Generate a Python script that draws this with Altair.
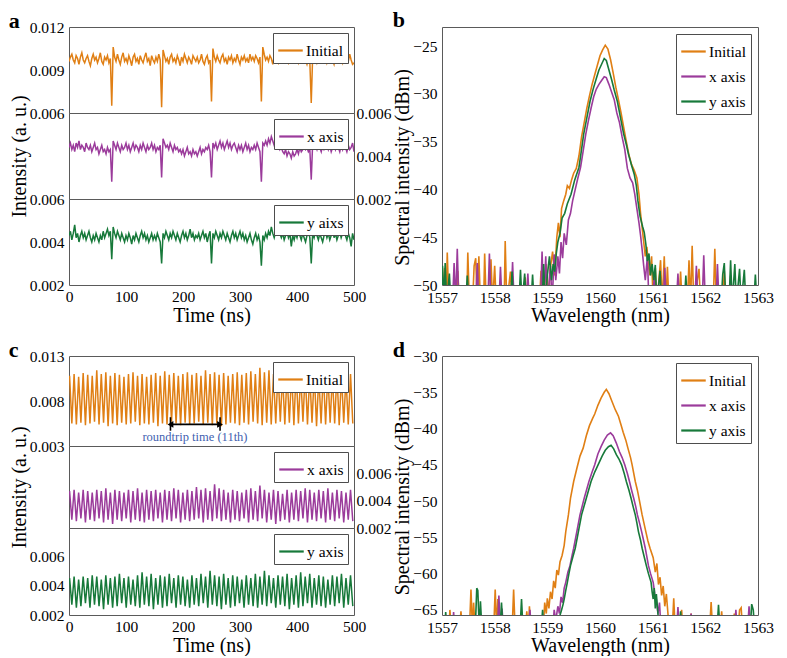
import altair as alt
import pandas as pd

FONT = "Liberation Serif"
ORANGE = "#E07F14"
PURPLE = "#9B3B9B"
GREEN = "#17793A"
FRAME = "#5a5a5a"
BLUE = "#3F5FB0"

# ---------------- panel a : time traces (2.5 ns sampling) ----------------
a_initial = [
    0.0096, 0.0099, 0.0101, 0.0097, 0.0095, 0.0100, 0.0098, 0.0094, 0.0099, 0.0102,
    0.0097, 0.0095, 0.0098, 0.0100, 0.0096, 0.0093, 0.0098, 0.0101, 0.0097, 0.0099,
    0.0095, 0.0098, 0.0102, 0.0096, 0.0094, 0.0099, 0.0097, 0.0100, 0.0095, 0.0098,
    0.0065, 0.0106, 0.0099, 0.0096, 0.0101, 0.0097, 0.0094, 0.0099, 0.0102, 0.0096,
    0.0098, 0.0095, 0.0100, 0.0097, 0.0093, 0.0099, 0.0101, 0.0096, 0.0098, 0.0094,
    0.0100, 0.0097, 0.0095, 0.0099, 0.0102, 0.0096, 0.0098, 0.0093, 0.0100, 0.0097,
    0.0095, 0.0099, 0.0096, 0.0101, 0.0097, 0.0064, 0.0104, 0.0100, 0.0096, 0.0098,
    0.0094, 0.0099, 0.0101, 0.0096, 0.0098, 0.0095, 0.0100, 0.0097, 0.0093, 0.0099,
    0.0096, 0.0101, 0.0098, 0.0095, 0.0099, 0.0097, 0.0094, 0.0100, 0.0098, 0.0096,
    0.0099, 0.0095, 0.0097, 0.0101, 0.0096, 0.0094, 0.0098, 0.0100, 0.0095, 0.0097,
    0.0068, 0.0105, 0.0099, 0.0096, 0.0100, 0.0097, 0.0095, 0.0099, 0.0101, 0.0096,
    0.0098, 0.0094, 0.0099, 0.0097, 0.0100, 0.0095, 0.0098, 0.0096, 0.0101, 0.0097,
    0.0094, 0.0099, 0.0097, 0.0100, 0.0096, 0.0098, 0.0095, 0.0101, 0.0097, 0.0099,
    0.0096, 0.0100, 0.0098, 0.0095, 0.0099, 0.0068, 0.0106, 0.0101, 0.0097, 0.0099,
    0.0096, 0.0100, 0.0098, 0.0094, 0.0099, 0.0101, 0.0097, 0.0095, 0.0100, 0.0098,
    0.0096, 0.0099, 0.0102, 0.0097, 0.0095, 0.0100, 0.0098, 0.0096, 0.0101, 0.0097,
    0.0099, 0.0095, 0.0098, 0.0100, 0.0096, 0.0099, 0.0097, 0.0094, 0.0098, 0.0096,
    0.0067, 0.0100, 0.0097, 0.0099, 0.0095, 0.0098, 0.0101, 0.0096, 0.0099, 0.0097,
    0.0100, 0.0095, 0.0098, 0.0096, 0.0101, 0.0097, 0.0094, 0.0099, 0.0097, 0.0100,
    0.0096, 0.0098, 0.0095, 0.0100, 0.0097, 0.0099, 0.0096, 0.0101, 0.0097, 0.0094,
    0.0095,
]
a_xaxis = [
    0.0044, 0.0046, 0.0043, 0.0045, 0.0042, 0.0046, 0.0044, 0.0047, 0.0043, 0.0045,
    0.0044, 0.0042, 0.0046, 0.0044, 0.0043, 0.0045, 0.0042, 0.0044, 0.0046, 0.0043,
    0.0044, 0.0041, 0.0043, 0.0045, 0.0042, 0.0043, 0.0041, 0.0044, 0.0042, 0.0043,
    0.0028, 0.0047, 0.0045, 0.0043, 0.0046, 0.0044, 0.0042, 0.0045, 0.0043, 0.0044,
    0.0046, 0.0043, 0.0045, 0.0042, 0.0044, 0.0046, 0.0043, 0.0045, 0.0044, 0.0042,
    0.0045, 0.0043, 0.0046, 0.0044, 0.0042, 0.0045, 0.0043, 0.0044, 0.0046, 0.0043,
    0.0045, 0.0042, 0.0044, 0.0043, 0.0045, 0.0030, 0.0048, 0.0046, 0.0044, 0.0045,
    0.0043, 0.0046, 0.0044, 0.0042, 0.0045, 0.0043, 0.0044, 0.0042, 0.0043, 0.0041,
    0.0043, 0.0040, 0.0042, 0.0044, 0.0041, 0.0042, 0.0040, 0.0043, 0.0041, 0.0042,
    0.0040, 0.0042, 0.0044, 0.0041, 0.0043, 0.0042, 0.0044, 0.0043, 0.0045, 0.0042,
    0.0030, 0.0046, 0.0044, 0.0046, 0.0043, 0.0045, 0.0047, 0.0044, 0.0046, 0.0043,
    0.0045, 0.0047, 0.0044, 0.0046, 0.0043, 0.0045, 0.0046, 0.0044, 0.0042, 0.0045,
    0.0043, 0.0045, 0.0042, 0.0044, 0.0046, 0.0043, 0.0045, 0.0042, 0.0044, 0.0043,
    0.0045, 0.0043, 0.0046, 0.0044, 0.0042, 0.0028, 0.0046, 0.0045, 0.0047, 0.0045,
    0.0048, 0.0046, 0.0049, 0.0047, 0.0045, 0.0047, 0.0044, 0.0046, 0.0043, 0.0044,
    0.0042, 0.0041, 0.0043, 0.0040, 0.0042, 0.0041, 0.0039, 0.0042, 0.0040, 0.0041,
    0.0043, 0.0041, 0.0044, 0.0042, 0.0043, 0.0045, 0.0043, 0.0044, 0.0042, 0.0043,
    0.0029, 0.0046, 0.0044, 0.0045, 0.0043, 0.0046, 0.0044, 0.0042, 0.0045, 0.0043,
    0.0044, 0.0046, 0.0043, 0.0045, 0.0042, 0.0044, 0.0046, 0.0043, 0.0045, 0.0044,
    0.0042, 0.0045, 0.0043, 0.0046, 0.0044, 0.0042, 0.0045, 0.0043, 0.0044, 0.0046,
    0.0042,
]
a_yaxis = [
    0.0043, 0.0045, 0.0041, 0.0044, 0.0048, 0.0042, 0.0044, 0.0040, 0.0043, 0.0045,
    0.0042, 0.0044, 0.0041, 0.0043, 0.0045, 0.0042, 0.0040, 0.0043, 0.0041, 0.0044,
    0.0042, 0.0040, 0.0043, 0.0041, 0.0045, 0.0042, 0.0044, 0.0046, 0.0043, 0.0045,
    0.0032, 0.0047, 0.0044, 0.0042, 0.0045, 0.0043, 0.0041, 0.0044, 0.0042, 0.0040,
    0.0043, 0.0041, 0.0044, 0.0042, 0.0039, 0.0043, 0.0041, 0.0044, 0.0042, 0.0040,
    0.0043, 0.0045, 0.0042, 0.0044, 0.0041, 0.0043, 0.0040, 0.0042, 0.0044, 0.0041,
    0.0043, 0.0041, 0.0044, 0.0042, 0.0040, 0.0030, 0.0044, 0.0042, 0.0045, 0.0043,
    0.0041, 0.0044, 0.0042, 0.0045, 0.0043, 0.0041, 0.0044, 0.0042, 0.0040, 0.0043,
    0.0045, 0.0042, 0.0044, 0.0041, 0.0043, 0.0046, 0.0042, 0.0044, 0.0041, 0.0043,
    0.0042, 0.0044, 0.0041, 0.0043, 0.0045, 0.0042, 0.0044, 0.0040, 0.0043, 0.0045,
    0.0030, 0.0044, 0.0042, 0.0045, 0.0043, 0.0041, 0.0044, 0.0042, 0.0045, 0.0043,
    0.0041, 0.0044, 0.0042, 0.0040, 0.0043, 0.0045, 0.0042, 0.0044, 0.0041, 0.0043,
    0.0045, 0.0042, 0.0044, 0.0041, 0.0043, 0.0040, 0.0042, 0.0044, 0.0041, 0.0039,
    0.0042, 0.0044, 0.0041, 0.0043, 0.0040, 0.0029, 0.0043, 0.0041, 0.0044, 0.0042,
    0.0045, 0.0043, 0.0047, 0.0044, 0.0042, 0.0045, 0.0043, 0.0049, 0.0044, 0.0042,
    0.0044, 0.0041, 0.0043, 0.0045, 0.0042, 0.0044, 0.0038, 0.0043, 0.0041, 0.0044,
    0.0042, 0.0045, 0.0043, 0.0041, 0.0044, 0.0042, 0.0040, 0.0043, 0.0045, 0.0042,
    0.0030, 0.0044, 0.0042, 0.0045, 0.0043, 0.0041, 0.0044, 0.0042, 0.0040, 0.0043,
    0.0045, 0.0042, 0.0044, 0.0041, 0.0043, 0.0046, 0.0042, 0.0044, 0.0041, 0.0043,
    0.0045, 0.0042, 0.0044, 0.0047, 0.0043, 0.0041, 0.0044, 0.0042, 0.0038, 0.0044,
    0.0041,
]

# ---------------- panel c : oscillating traces (peak / trough per period) ----------------
c_initial_peaks = [
    0.0108, 0.0110, 0.0107, 0.0111, 0.0109, 0.0108, 0.0114, 0.0110, 0.0112, 0.0108,
    0.0111, 0.0109, 0.0107, 0.0110, 0.0112, 0.0108, 0.0110, 0.0107, 0.0109, 0.0111,
    0.0108, 0.0113, 0.0109, 0.0111, 0.0108, 0.0110, 0.0112, 0.0109, 0.0111, 0.0108,
    0.0114, 0.0110, 0.0112, 0.0109, 0.0111, 0.0108, 0.0110, 0.0112, 0.0109, 0.0111,
    0.0113, 0.0110, 0.0117, 0.0112, 0.0114, 0.0110, 0.0112, 0.0109, 0.0111, 0.0113,
    0.0114, 0.0110, 0.0112, 0.0109, 0.0111, 0.0108, 0.0112, 0.0110, 0.0108, 0.0111,
    0.0109, 0.0106, 0.0110,
]
c_initial_troughs = [
    0.0055, 0.0054, 0.0056, 0.0053, 0.0055, 0.0057, 0.0054, 0.0056, 0.0052, 0.0055,
    0.0053, 0.0056, 0.0054, 0.0055, 0.0057, 0.0053, 0.0055, 0.0054, 0.0056, 0.0052,
    0.0055, 0.0054, 0.0057, 0.0055, 0.0053, 0.0056, 0.0054, 0.0055, 0.0057, 0.0054,
    0.0056, 0.0053, 0.0055, 0.0052, 0.0054, 0.0056, 0.0055, 0.0053, 0.0056, 0.0054,
    0.0057, 0.0055, 0.0053, 0.0056, 0.0054, 0.0055, 0.0057, 0.0054, 0.0056, 0.0053,
    0.0055, 0.0057, 0.0054, 0.0056, 0.0052, 0.0055, 0.0054, 0.0056, 0.0055, 0.0053,
    0.0056, 0.0054, 0.0055,
]
c_xaxis_peaks = [
    0.0047, 0.0048, 0.0046, 0.0048, 0.0047, 0.0046, 0.0048, 0.0047, 0.0049, 0.0046,
    0.0048, 0.0047, 0.0046, 0.0048, 0.0047, 0.0049, 0.0046, 0.0048, 0.0047, 0.0048,
    0.0046, 0.0048, 0.0047, 0.0049, 0.0048, 0.0046, 0.0048, 0.0047, 0.0050, 0.0048,
    0.0049, 0.0047, 0.0052, 0.0049, 0.0048, 0.0046, 0.0048, 0.0047, 0.0046, 0.0048,
    0.0049, 0.0047, 0.0051, 0.0048, 0.0046, 0.0048, 0.0047, 0.0045, 0.0048, 0.0046,
    0.0048, 0.0047, 0.0049, 0.0048, 0.0046, 0.0048, 0.0047, 0.0049, 0.0046, 0.0048,
    0.0047, 0.0046, 0.0048,
]
c_xaxis_troughs = [
    0.0026, 0.0025, 0.0027, 0.0024, 0.0026, 0.0025, 0.0027, 0.0024, 0.0026, 0.0023,
    0.0026, 0.0025, 0.0027, 0.0024, 0.0026, 0.0025, 0.0024, 0.0026, 0.0025, 0.0027,
    0.0024, 0.0026, 0.0025, 0.0027, 0.0024, 0.0026, 0.0025, 0.0026, 0.0027, 0.0024,
    0.0026, 0.0025, 0.0027, 0.0025, 0.0026, 0.0024, 0.0026, 0.0025, 0.0027, 0.0024,
    0.0026, 0.0025, 0.0027, 0.0024, 0.0026, 0.0023, 0.0025, 0.0026, 0.0024, 0.0026,
    0.0025, 0.0027, 0.0024, 0.0026, 0.0025, 0.0027, 0.0024, 0.0026, 0.0025, 0.0027,
    0.0024, 0.0026, 0.0025,
]
c_yaxis_peaks = [
    0.0045, 0.0046, 0.0044, 0.0046, 0.0045, 0.0047, 0.0046, 0.0044, 0.0047, 0.0045,
    0.0046, 0.0048, 0.0045, 0.0046, 0.0044, 0.0047, 0.0049, 0.0046, 0.0048, 0.0045,
    0.0047, 0.0046, 0.0048, 0.0045, 0.0047, 0.0046, 0.0044, 0.0047, 0.0045, 0.0048,
    0.0046, 0.0050, 0.0047, 0.0046, 0.0048, 0.0045, 0.0047, 0.0046, 0.0044, 0.0047,
    0.0045, 0.0048, 0.0046, 0.0050, 0.0047, 0.0045, 0.0047, 0.0046, 0.0048, 0.0045,
    0.0047, 0.0049, 0.0046, 0.0048, 0.0045, 0.0047, 0.0046, 0.0044, 0.0047, 0.0046,
    0.0048, 0.0045, 0.0047,
]
c_yaxis_troughs = [
    0.0027, 0.0025, 0.0026, 0.0028, 0.0025, 0.0027, 0.0026, 0.0024, 0.0027, 0.0025,
    0.0026, 0.0028, 0.0025, 0.0027, 0.0026, 0.0025, 0.0027, 0.0026, 0.0024, 0.0027,
    0.0025, 0.0026, 0.0028, 0.0025, 0.0027, 0.0026, 0.0025, 0.0027, 0.0026, 0.0028,
    0.0025, 0.0027, 0.0026, 0.0024, 0.0027, 0.0025, 0.0026, 0.0028, 0.0025, 0.0027,
    0.0026, 0.0025, 0.0027, 0.0026, 0.0028, 0.0025, 0.0027, 0.0026, 0.0024, 0.0027,
    0.0025, 0.0026, 0.0028, 0.0025, 0.0027, 0.0026, 0.0025, 0.0027, 0.0026, 0.0028,
    0.0025, 0.0027, 0.0026,
]
C_FIRST_PEAK_NS = 1.0
C_HALF_PERIOD_NS = 3.975  # 11th-harmonic pulses: 87.5 ns roundtrip / 11 / 2

roundtrip_t = [178, 265]
roundtrip_bar = [0.0047, 0.0062]
roundtrip_arrow_y = 0.0054
roundtrip_label = "roundtrip time (11th)"
roundtrip_label_pos = (221, 0.0040)

# ---------------- panel b : spectra (nm, dBm) ----------------
b_initial = [
    (1557.00, -52), (1557.05, -48.2), (1557.08, -52), (1557.10, -46.6), (1557.13, -52),
    (1557.27, -52), (1557.30, -48.5), (1557.33, -52), (1557.47, -52), (1557.49, -46.6),
    (1557.52, -52), (1557.58, -52), (1557.61, -48.0), (1557.64, -47.2), (1557.67, -52),
    (1557.70, -47.0), (1557.73, -52), (1557.79, -52), (1557.81, -46.7), (1557.84, -52),
    (1557.91, -52), (1557.93, -47.3), (1557.96, -52), (1558.00, -48.0), (1558.03, -52),
    (1558.18, -52), (1558.20, -45.4), (1558.23, -52), (1558.30, -48.6), (1558.33, -52),
    (1558.55, -52), (1558.58, -49.2), (1558.61, -52), (1558.85, -52), (1558.88, -48.5),
    (1558.92, -52), (1558.98, -47.8), (1559.02, -52), (1559.05, -48.5), (1559.10, -46.5),
    (1559.14, -49.0), (1559.18, -45.0), (1559.21, -43.5), (1559.24, -45.0), (1559.27, -42.0),
    (1559.31, -41.2), (1559.35, -40.5), (1559.38, -39.6), (1559.42, -39.9), (1559.46, -39.0),
    (1559.50, -38.3), (1559.55, -37.8), (1559.60, -36.5), (1559.65, -34.5), (1559.70, -33.0),
    (1559.75, -31.5), (1559.80, -30.2), (1559.85, -29.0), (1559.90, -28.0), (1559.95, -27.0),
    (1560.00, -26.0), (1560.05, -25.4), (1560.10, -24.9), (1560.15, -25.3), (1560.20, -26.4),
    (1560.25, -27.8), (1560.30, -29.3), (1560.35, -30.6), (1560.40, -32.0), (1560.45, -33.5),
    (1560.50, -35.0), (1560.55, -36.4), (1560.60, -37.4), (1560.65, -38.0), (1560.70, -38.8),
    (1560.74, -40.5), (1560.77, -42.5), (1560.80, -44.0), (1560.83, -45.5), (1560.86, -47.0),
    (1560.89, -46.0), (1560.92, -48.0), (1560.95, -49.0), (1560.98, -47.0), (1561.01, -52),
    (1561.05, -48.2), (1561.08, -52), (1561.15, -47.4), (1561.18, -52), (1561.22, -47.0),
    (1561.25, -52), (1561.28, -48.1), (1561.31, -52), (1561.50, -52), (1561.53, -48.6),
    (1561.56, -52), (1561.66, -52), (1561.69, -47.4), (1561.72, -52), (1561.75, -45.9),
    (1561.78, -52), (1561.88, -48.3), (1561.91, -52), (1562.15, -52), (1562.18, -46.2),
    (1562.21, -52), (1562.33, -52), (1562.36, -48.5), (1562.39, -52), (1563.00, -52),
]
b_xaxis = [
    (1557.00, -52), (1557.20, -52), (1557.23, -47.7), (1557.26, -52), (1557.29, -46.2),
    (1557.32, -52), (1557.64, -52), (1557.67, -47.7), (1557.70, -52), (1557.87, -52),
    (1557.90, -46.7), (1557.93, -52), (1558.08, -52), (1558.11, -48.1), (1558.14, -52),
    (1558.31, -52), (1558.34, -47.6), (1558.37, -52), (1558.60, -52), (1558.63, -48.8),
    (1558.66, -52), (1558.87, -52), (1558.90, -46.5), (1558.93, -52), (1558.97, -47.0),
    (1559.00, -52), (1559.06, -48.0), (1559.09, -52), (1559.13, -46.8), (1559.16, -49.5),
    (1559.20, -47.0), (1559.23, -48.8), (1559.26, -45.5), (1559.29, -47.2), (1559.32, -44.6),
    (1559.36, -45.8), (1559.40, -43.2), (1559.44, -42.5), (1559.48, -41.2), (1559.53, -40.0),
    (1559.58, -38.8), (1559.63, -37.7), (1559.68, -36.0), (1559.73, -34.2), (1559.78, -32.8),
    (1559.83, -31.5), (1559.88, -30.3), (1559.93, -29.5), (1559.98, -29.0), (1560.03, -28.6),
    (1560.08, -28.2), (1560.12, -28.3), (1560.17, -29.0), (1560.22, -29.8), (1560.27, -30.6),
    (1560.32, -32.0), (1560.37, -33.0), (1560.42, -34.5), (1560.47, -35.8), (1560.52, -37.8),
    (1560.57, -38.8), (1560.62, -39.3), (1560.66, -40.5), (1560.70, -42.0), (1560.74, -43.5),
    (1560.77, -44.8), (1560.80, -46.3), (1560.83, -48.0), (1560.86, -49.5), (1560.90, -47.0),
    (1560.93, -52), (1561.00, -52), (1561.03, -49.0), (1561.06, -52), (1561.20, -52),
    (1561.23, -48.2), (1561.26, -52), (1561.45, -52), (1561.48, -48.8), (1561.51, -52),
    (1561.80, -52), (1561.83, -48.0), (1561.86, -52), (1561.94, -52), (1561.97, -46.9),
    (1562.00, -52), (1562.20, -52), (1562.23, -47.8), (1562.26, -52), (1562.45, -52),
    (1562.48, -49.0), (1562.51, -52), (1563.00, -52),
]
b_yaxis = [
    (1557.00, -52), (1557.01, -48.0), (1557.04, -52), (1557.06, -47.7), (1557.09, -52),
    (1557.14, -48.8), (1557.17, -52), (1557.45, -52), (1557.48, -49.0), (1557.51, -52),
    (1558.30, -52), (1558.33, -48.6), (1558.36, -52), (1558.46, -52), (1558.49, -48.4),
    (1558.52, -52), (1558.57, -48.8), (1558.60, -52), (1558.69, -52), (1558.72, -48.9),
    (1558.75, -52), (1558.90, -52), (1558.93, -47.8), (1558.96, -52), (1559.00, -49.0),
    (1559.04, -47.0), (1559.08, -49.5), (1559.11, -47.8), (1559.14, -48.6), (1559.17, -46.7),
    (1559.20, -45.5), (1559.24, -44.6), (1559.28, -43.0), (1559.33, -42.5), (1559.38, -41.5),
    (1559.45, -40.5), (1559.52, -39.0), (1559.60, -37.7), (1559.65, -35.8), (1559.69, -34.2),
    (1559.75, -32.5), (1559.81, -30.8), (1559.87, -29.5), (1559.93, -28.4), (1559.98, -27.5),
    (1560.03, -26.9), (1560.08, -26.3), (1560.12, -26.5), (1560.17, -27.5), (1560.22, -28.5),
    (1560.27, -29.6), (1560.33, -30.8), (1560.39, -32.5), (1560.45, -34.2), (1560.50, -35.3),
    (1560.54, -36.3), (1560.60, -37.5), (1560.65, -38.4), (1560.69, -39.6), (1560.72, -41.2),
    (1560.76, -42.8), (1560.81, -43.9), (1560.84, -44.5), (1560.87, -45.7), (1560.90, -47.5),
    (1560.93, -46.7), (1560.96, -49.0), (1560.99, -47.8), (1561.02, -49.5), (1561.05, -47.9),
    (1561.08, -52), (1561.14, -48.5), (1561.17, -52), (1561.60, -52), (1561.63, -49.0),
    (1561.66, -52), (1562.30, -52), (1562.33, -48.9), (1562.36, -47.7), (1562.39, -52),
    (1562.45, -52), (1562.48, -47.4), (1562.51, -52), (1562.56, -47.8), (1562.59, -52),
    (1562.65, -48.3), (1562.68, -52), (1562.74, -48.4), (1562.77, -52), (1562.92, -52),
    (1562.95, -48.9), (1562.98, -52), (1563.00, -52),
]

# ---------------- panel d : spectra (nm, dBm) ----------------
d_initial = [
    (1557.00, -68), (1557.13, -68), (1557.15, -65.0), (1557.18, -68), (1557.33, -68),
    (1557.36, -65.2), (1557.39, -68), (1557.52, -68), (1557.55, -62.2), (1557.58, -68),
    (1557.60, -64.0), (1557.63, -68), (1557.98, -68), (1558.01, -62.2), (1558.04, -68),
    (1558.06, -63.5), (1558.09, -68), (1558.33, -68), (1558.36, -62.2), (1558.39, -68),
    (1558.58, -68), (1558.61, -65.2), (1558.64, -68), (1558.66, -64.5), (1558.69, -68),
    (1558.92, -68), (1558.95, -64.0), (1558.98, -65.5), (1559.00, -63.4), (1559.03, -64.8),
    (1559.06, -62.5), (1559.09, -63.5), (1559.12, -61.0), (1559.15, -62.0), (1559.18, -59.5),
    (1559.21, -60.2), (1559.24, -58.4), (1559.28, -57.5), (1559.32, -56.1), (1559.35, -54.2),
    (1559.40, -51.9), (1559.44, -49.6), (1559.50, -47.3), (1559.56, -45.5), (1559.62, -43.8),
    (1559.68, -42.7), (1559.74, -41.0), (1559.80, -39.6), (1559.86, -38.6), (1559.90, -38.0),
    (1559.96, -36.8), (1560.02, -35.8), (1560.08, -35.0), (1560.12, -34.6), (1560.17, -35.2),
    (1560.23, -36.3), (1560.29, -37.4), (1560.35, -38.3), (1560.40, -39.5), (1560.44, -40.5),
    (1560.49, -41.6), (1560.53, -42.7), (1560.58, -44.0), (1560.61, -45.0), (1560.67, -47.3),
    (1560.71, -48.5), (1560.74, -49.6), (1560.80, -51.9), (1560.87, -54.2), (1560.91, -55.5),
    (1560.95, -56.5), (1561.01, -57.8), (1561.05, -59.8), (1561.08, -58.6), (1561.11, -61.5),
    (1561.14, -60.5), (1561.17, -63.0), (1561.20, -61.7), (1561.23, -64.5), (1561.26, -62.8),
    (1561.29, -65.5), (1561.32, -68), (1561.37, -68), (1561.40, -63.4), (1561.43, -68),
    (1561.52, -68), (1561.55, -65.0), (1561.58, -68), (1561.70, -68), (1561.73, -65.5),
    (1561.76, -68), (1562.08, -68), (1562.11, -63.9), (1562.14, -68), (1562.28, -68),
    (1562.31, -65.2), (1562.34, -68), (1562.52, -68), (1562.55, -65.5), (1562.58, -68),
    (1562.62, -68), (1562.65, -65.0), (1562.68, -64.7), (1562.71, -68), (1563.00, -68),
]
d_xaxis = [
    (1557.00, -68), (1557.20, -68), (1557.22, -65.3), (1557.25, -68), (1558.05, -68),
    (1558.08, -63.0), (1558.11, -68), (1558.14, -64.8), (1558.17, -68), (1558.64, -68),
    (1558.67, -65.0), (1558.70, -68), (1559.10, -68), (1559.13, -65.0), (1559.16, -66.5),
    (1559.20, -64.5), (1559.23, -65.5), (1559.26, -63.2), (1559.29, -64.0), (1559.32, -62.0),
    (1559.35, -61.2), (1559.39, -59.8), (1559.43, -58.9), (1559.47, -57.5), (1559.50, -56.5),
    (1559.56, -54.2), (1559.62, -51.9), (1559.70, -49.6), (1559.79, -47.3), (1559.85, -46.0),
    (1559.90, -45.0), (1559.96, -43.5), (1560.02, -42.5), (1560.08, -41.6), (1560.14, -40.9),
    (1560.20, -40.6), (1560.25, -41.0), (1560.31, -42.0), (1560.37, -43.2), (1560.42, -44.0),
    (1560.47, -45.0), (1560.52, -46.2), (1560.56, -47.3), (1560.60, -48.5), (1560.64, -49.6),
    (1560.68, -50.8), (1560.71, -51.9), (1560.75, -53.0), (1560.79, -54.2), (1560.83, -55.5),
    (1560.86, -56.5), (1560.89, -57.7), (1560.92, -58.9), (1560.96, -60.0), (1561.01, -61.2),
    (1561.04, -62.8), (1561.07, -63.5), (1561.10, -65.5), (1561.13, -64.0), (1561.16, -68),
    (1561.45, -68), (1561.48, -64.6), (1561.51, -68), (1561.70, -68), (1561.73, -65.5),
    (1561.76, -68), (1562.55, -68), (1562.58, -65.0), (1562.61, -68), (1562.80, -68),
    (1562.83, -64.5), (1562.86, -68), (1563.00, -68),
]
d_yaxis = [
    (1557.00, -68), (1557.05, -68), (1557.07, -65.3), (1557.10, -68), (1557.63, -68),
    (1557.66, -62.0), (1557.68, -62.3), (1557.71, -68), (1557.73, -63.8), (1557.76, -68),
    (1558.10, -68), (1558.13, -64.0), (1558.16, -68), (1558.48, -68), (1558.51, -63.5),
    (1558.54, -68), (1558.88, -68), (1558.91, -65.0), (1558.94, -68), (1559.20, -68),
    (1559.23, -66.0), (1559.27, -65.0), (1559.30, -64.2), (1559.32, -63.5), (1559.35, -62.3),
    (1559.38, -61.2), (1559.41, -60.0), (1559.44, -58.9), (1559.48, -57.8), (1559.53, -56.5),
    (1559.59, -54.2), (1559.65, -51.9), (1559.74, -49.6), (1559.83, -47.3), (1559.90, -46.0),
    (1559.97, -44.9), (1560.04, -43.8), (1560.10, -43.0), (1560.16, -42.5), (1560.21, -42.3),
    (1560.26, -42.8), (1560.31, -43.6), (1560.36, -44.2), (1560.41, -45.0), (1560.46, -46.2),
    (1560.50, -47.3), (1560.55, -48.5), (1560.59, -49.6), (1560.63, -50.8), (1560.67, -51.9),
    (1560.70, -53.0), (1560.73, -54.2), (1560.77, -55.4), (1560.80, -56.5), (1560.84, -57.7),
    (1560.88, -58.9), (1560.92, -60.0), (1560.97, -61.2), (1560.99, -62.5), (1561.01, -63.5),
    (1561.03, -62.0), (1561.05, -64.8), (1561.07, -62.8), (1561.10, -65.5), (1561.13, -68),
    (1561.50, -68), (1561.53, -65.2), (1561.56, -68), (1562.22, -68), (1562.25, -64.3),
    (1562.28, -68), (1562.85, -68), (1562.88, -64.2), (1562.91, -65.0), (1562.94, -68),
    (1563.00, -68),
]

series_names = ["Initial", "x axis", "y axis"]
series_colors = [ORANGE, PURPLE, GREEN]
time_ticks = [0, 100, 200, 300, 400, 500]
wl_ticks = [1557, 1558, 1559, 1560, 1561, 1562, 1563]

# ---------------- layout sizes ----------------
W_TIME = 285
W_SPEC = 316
H_A = [86, 86, 86]
H_C = [90, 82, 87]
H_SPEC_B = 258
H_SPEC_D = 259
TITLE_OFFSET = -13


def legend(offset=6):
    return alt.Legend(
        title=None, orient="top-right", offset=offset, padding=4,
        strokeColor="#4d4d4d", fillColor="white", symbolType="stroke",
        symbolSize=600, symbolStrokeWidth=2.2, labelFont=FONT, labelFontSize=15.5,
        labelColor="black", rowPadding=3, labelOffset=2,
    )


def x_time(show):
    sc = alt.Scale(domain=[0, 500], nice=False, zero=False)
    if show:
        return alt.X("t:Q", scale=sc, axis=alt.Axis(values=time_ticks, format="d", title="Time (ns)",
                                                  labelFlush=False, labelPadding=4, titlePadding=1))
    return alt.X("t:Q", scale=sc, axis=None)


def y_time(domain, ticks, title=None, hidden=False, orient="left"):
    kw = dict(values=ticks, format=".3f", labelFlush=False, labelOverlap=False, orient=orient,
              title=title, titlePadding=0, labelPadding=5 if orient == "left" else 2)
    if hidden:
        kw["labelOpacity"] = 0
    return alt.Y("v:Q", scale=alt.Scale(domain=domain, nice=False, zero=False), axis=alt.Axis(**kw))


def strip(times, values, name, color, domain, ticks, height, show_x=False,
          title=None, right_ticks=None, extra=None):
    df = pd.DataFrame({"t": times, "v": values, "s": name})
    base = alt.Chart(df)
    line = base.mark_line(strokeWidth=1.5, clip=True).encode(
        x=x_time(show_x),
        y=y_time(domain, ticks, title=title, hidden=right_ticks is not None),
        color=alt.Color("s:N", scale=alt.Scale(domain=[name], range=[color]), legend=legend()),
    )
    layers = [line]
    if extra:
        layers += extra(domain)
    if right_ticks is not None:
        ghost = base.mark_line(opacity=0, clip=True).encode(
            x=x_time(show_x), y=y_time(domain, right_ticks, orient="right"))
        ch = alt.layer(*layers, ghost).resolve_scale(y="independent")
    else:
        ch = alt.layer(*layers) if len(layers) > 1 else line
    return ch.properties(width=W_TIME, height=height)


def interleave(peaks, troughs):
    vals = [v for pair in zip(peaks, troughs) for v in pair]
    times = [round(C_FIRST_PEAK_NS + C_HALF_PERIOD_NS * i, 3) for i in range(len(vals))]
    return times, vals


def roundtrip_layers(domain):
    sc_x = x_time(False)
    arrow_df = pd.DataFrame({"t": [roundtrip_t[0]], "t2": [roundtrip_t[1]], "v": [roundtrip_arrow_y]})
    bars_df = pd.DataFrame({"t": roundtrip_t, "v": [roundtrip_bar[0]] * 2, "v2": [roundtrip_bar[1]] * 2})
    heads_df = pd.DataFrame({"t": roundtrip_t, "v": [roundtrip_arrow_y] * 2,
                             "shape": ["triangle-left", "triangle-right"]})
    label_df = pd.DataFrame({"t": [roundtrip_label_pos[0]], "v": [roundtrip_label_pos[1]],
                             "txt": [roundtrip_label]})
    ysc = alt.Scale(domain=domain, nice=False, zero=False)
    arrow = alt.Chart(arrow_df).mark_rule(color="black", strokeWidth=1.6).encode(
        x=sc_x, x2="t2:Q", y=alt.Y("v:Q", scale=ysc))
    bars = alt.Chart(bars_df).mark_rule(color="black", strokeWidth=1.6).encode(
        x=sc_x, y=alt.Y("v:Q", scale=ysc), y2="v2:Q")
    heads = alt.Chart(heads_df).mark_point(filled=True, color="black", size=45, opacity=1).encode(
        x=sc_x, y=alt.Y("v:Q", scale=ysc),
        shape=alt.Shape("shape:N", scale=None))
    label = alt.Chart(label_df).mark_text(font=FONT, fontSize=12.5, color=BLUE).encode(
        x=sc_x, y=alt.Y("v:Q", scale=ysc), text="txt:N")
    return [arrow, bars, heads, label]


def spectrum(series, ydomain, yticks, height):
    rows = []
    for name, pts in zip(series_names, series):
        for w, d in pts:
            rows.append({"wl": w, "dbm": d, "series": name})
    df = pd.DataFrame(rows)
    return alt.Chart(df).mark_line(strokeWidth=1.6, clip=True).encode(
        x=alt.X("wl:Q", scale=alt.Scale(domain=[1557, 1563], nice=False, zero=False),
                axis=alt.Axis(values=wl_ticks, format="d", title="Wavelength (nm)",
                              labelFlush=False, labelPadding=5, titlePadding=0)),
        y=alt.Y("dbm:Q", scale=alt.Scale(domain=ydomain, nice=False, zero=False),
                axis=alt.Axis(values=yticks, format="d", title="Spectral intensity (dBm)",
                              labelFlush=False, labelOverlap=False, labelPadding=5,
                              titlePadding=0, titleY=height / 2 + 11)),
        color=alt.Color("series:N", scale=alt.Scale(domain=series_names, range=series_colors),
                        legend=legend(7)),
    ).properties(width=W_SPEC, height=height)


def panel_title(letter, offset):
    return alt.TitleParams(letter, anchor="start", font=FONT, fontSize=22, fontWeight="bold",
                           offset=offset, color="black")


# ---------------- build panels ----------------
ta = [2.5 * i for i in range(len(a_initial))]
tx = [2.5 * i for i in range(len(a_xaxis))]
ty = [2.5 * i for i in range(len(a_yaxis))]

a1 = strip(ta, a_initial, "Initial", ORANGE, [0.006, 0.012], [0.006, 0.009, 0.012], H_A[0])
a2 = strip(tx, a_xaxis, "x axis", PURPLE, [0.002, 0.006], [0.004], H_A[1],
           title="Intensity (a. u.)", right_ticks=[0.002, 0.004, 0.006])
a3 = strip(ty, a_yaxis, "y aixs", GREEN, [0.002, 0.006], [0.002, 0.004, 0.006], H_A[2], show_x=True)
A = alt.vconcat(a1, a2, a3, spacing=0, bounds="flush",
                title=panel_title("a", TITLE_OFFSET)).resolve_scale(color="independent")

B = spectrum([b_initial, b_xaxis, b_yaxis], [-50, -23], [-50, -45, -40, -35, -30, -25], H_SPEC_B) \
    .properties(title=panel_title("b", TITLE_OFFSET + 8))

c1t, c1v = interleave(c_initial_peaks, c_initial_troughs)
c2t, c2v = interleave(c_xaxis_peaks, c_xaxis_troughs)
c3t, c3v = interleave(c_yaxis_peaks, c_yaxis_troughs)
c1 = strip(c1t, c1v, "Initial", ORANGE, [0.003, 0.013], [0.003, 0.008, 0.013], H_C[0],
           extra=roundtrip_layers)
c2 = strip(c2t, c2v, "x axis", PURPLE, [0.002, 0.008], [0.004], H_C[1],
           title="Intensity (a. u.)", right_ticks=[0.002, 0.004, 0.006])
c3 = strip(c3t, c3v, "y axis", GREEN, [0.002, 0.0079], [0.002, 0.004, 0.006], H_C[2], show_x=True)
C = alt.vconcat(c1, c2, c3, spacing=0, bounds="flush",
                title=panel_title("c", TITLE_OFFSET)).resolve_scale(color="independent")

D = spectrum([d_initial, d_xaxis, d_yaxis], [-65.7, -30], [-65, -60, -55, -50, -45, -40, -35, -30],
             H_SPEC_D).properties(title=panel_title("d", TITLE_OFFSET))

row1 = alt.hconcat(A, B, spacing=0).resolve_scale(color="independent")
row2 = alt.hconcat(C, D, spacing=0).resolve_scale(color="independent")

chart = alt.vconcat(row1, row2, spacing=12).resolve_scale(color="independent").properties(
    padding={"left": 0, "top": 0, "right": 0, "bottom": 0}
).configure(font=FONT).configure_view(
    stroke=FRAME, strokeWidth=1
).configure_axis(
    labelFont=FONT, titleFont=FONT, labelFontSize=15.5, titleFontSize=20,
    titleFontWeight="normal", labelColor="black", titleColor="black",
    domain=False, ticks=False, tickSize=0, grid=False,
).configure_title(font=FONT)

chart.save("out.html", embed_options={"renderer": "svg", "actions": False})
